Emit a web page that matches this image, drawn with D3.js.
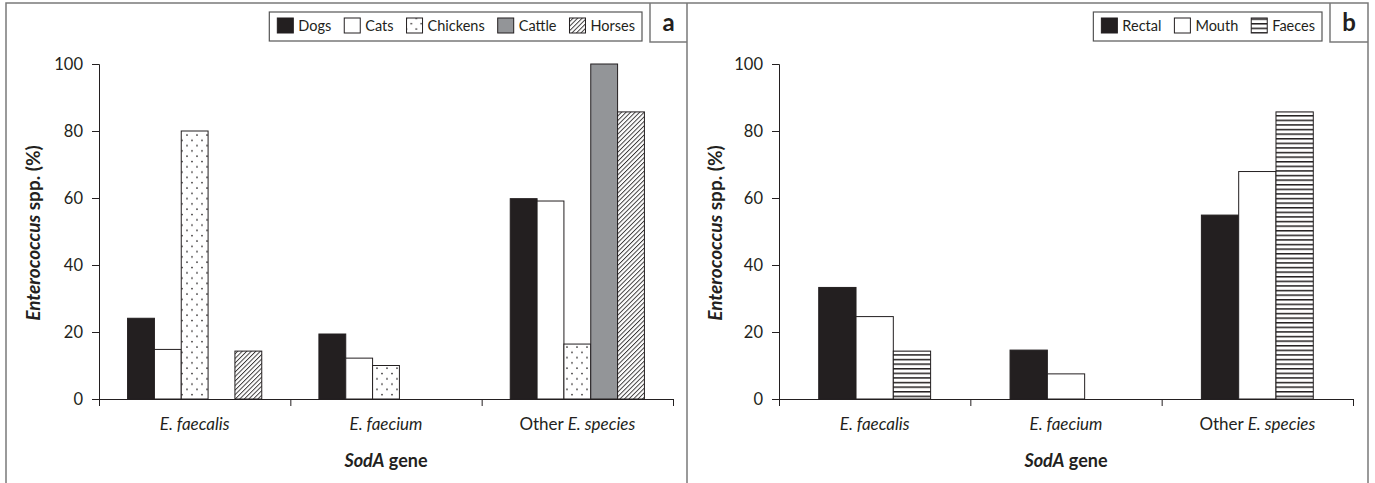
<!DOCTYPE html>
<html>
<head>
<meta charset="utf-8">
<script src="https://cdn.jsdelivr.net/npm/d3@7"></script>
<style>
  body { margin: 0; background: #fff; }
  svg text { font-family: Lato, "Open Sans", sans-serif; fill: #231f20; }
</style>
</head>
<body>
<div id="chart"></div>
<script>
// categories and y ticks shared by both panels
var categories = ["E. faecalis", "E. faecium", "Other E. species"];
var yTicks = [0, 20, 40, 60, 80, 100];

// panel a - by animal (%)
var animalSeries = ["Dogs", "Cats", "Chickens", "Cattle", "Horses"];
var dogsPct     = [24.1, 19.4, 59.8];
var catsPct     = [14.8, 12.2, 59.1];
var chickensPct = [80, 10, 16.4];
var cattlePct   = [0, 0, 100];
var horsesPct   = [14.3, 0, 85.7];

// panel b - by sample (%)
var sampleSeries = ["Rectal", "Mouth", "Faeces"];
var rectalPct = [33.3, 14.6, 54.9];
var mouthPct  = [24.6, 7.5, 67.9];
var faecesPct = [14.3, 0, 85.7];

var W = 1375, H = 483, ink = '#231f20';

var svg = d3.select('#chart').append('svg')
  .attr('width', W).attr('height', H)
  .attr('viewBox', [0, 0, W, H]);

// patterns
var defs = svg.append('defs');
var dots = defs.append('pattern').attr('id', 'dots')
  .attr('patternUnits', 'userSpaceOnUse').attr('width', 10).attr('height', 10.6);
dots.append('rect').attr('width', 10).attr('height', 10.6).attr('fill', '#fff');
dots.append('circle').attr('cx', 2).attr('cy', 2.5).attr('r', 0.85).attr('fill', ink);
dots.append('circle').attr('cx', 7).attr('cy', 7.8).attr('r', 0.85).attr('fill', ink);

var hatch = defs.append('pattern').attr('id', 'hatch')
  .attr('patternUnits', 'userSpaceOnUse').attr('width', 3.2).attr('height', 3.2)
  .attr('patternTransform', 'rotate(45)');
hatch.append('rect').attr('width', 3.2).attr('height', 3.2).attr('fill', '#fff');
hatch.append('line').attr('x1', 0.5).attr('y1', 0).attr('x2', 0.5).attr('y2', 3.2)
  .attr('stroke', ink).attr('stroke-width', 0.85);

var stripes = defs.append('pattern').attr('id', 'stripes')
  .attr('patternUnits', 'userSpaceOnUse').attr('width', 8).attr('height', 4.6);
stripes.append('rect').attr('width', 8).attr('height', 4.6).attr('fill', '#fff');
stripes.append('rect').attr('y', 0).attr('width', 8).attr('height', 1.5).attr('fill', ink);

var fills = {
  Dogs: ink, Cats: '#fff', Chickens: 'url(#dots)', Cattle: '#939598', Horses: 'url(#hatch)',
  Rectal: ink, Mouth: '#fff', Faeces: 'url(#stripes)'
};

// frame
var frame = svg.append('g').attr('fill', 'none').attr('stroke', '#7a7a7a').attr('stroke-width', 1.5);
frame.append('path').attr('d', 'M6,483V3H1368V483M687,3V483M650,3V42H687M1330,3V42H1368');
svg.append('text').attr('x', 668.5).attr('y', 31).attr('text-anchor', 'middle')
  .attr('font-size', '24px').attr('font-weight', 'bold').text('a');
svg.append('text').attr('x', 1349).attr('y', 31).attr('text-anchor', 'middle')
  .attr('font-size', '24px').attr('font-weight', 'bold').text('b');

function draw_panel(series, values, left, right, legendRight, labelX){
  var top = 64, bottom = 399;
  var g = svg.append('g');

  var x0 = d3.scaleBand().domain(categories).range([left, right]);
  var x1 = d3.scaleBand().domain(series).range([0, x0.bandwidth()])
    .paddingInner(0).paddingOuter(1.065);
  var y = d3.scaleLinear().domain([0, 100]).range([bottom, top]);

  var rows = [];
  series.forEach(function(s, i){
    categories.forEach(function(c, j){
      rows.push({cat: c, key: s, val: values[i][j]});
    });
  });

  g.selectAll('rect.bar')
    .data(rows.filter(function(d){ return d.val > 0; }))
    .enter().append('rect')
    .attr('class', 'bar')
    .attr('x', function(d){ return x0(d.cat) + x1(d.key); })
    .attr('width', x1.bandwidth())
    .attr('y', function(d){ return y(d.val); })
    .attr('height', function(d){ return bottom - y(d.val); })
    .attr('fill', function(d){ return fills[d.key]; })
    .attr('stroke', ink)
    .attr('stroke-width', 1);

  // y axis
  g.append('g')
    .attr('transform', 'translate(' + left + ',0)')
    .call(d3.axisLeft(y).tickValues(yTicks).tickSize(7).tickPadding(9))
    .call(function(a){
      a.selectAll('line, path').attr('stroke', ink);
      a.selectAll('text').attr('font-size', '16.5px').style('font-family', 'Lato, sans-serif').attr('fill', ink);
    });

  // x axis with ticks on band edges
  var xEdge = d3.scaleLinear().domain([0, categories.length]).range([left, right]);
  g.append('g')
    .attr('transform', 'translate(0,' + bottom + ')')
    .call(d3.axisBottom(xEdge).ticks(categories.length).tickSize(7).tickSizeOuter(0).tickFormat(''))
    .call(function(a){ a.selectAll('line, path').attr('stroke', ink); });

  // category labels
  var cl = g.selectAll('text.cat').data(categories).enter().append('text')
    .attr('class', 'cat')
    .attr('x', function(d){ return x0(d) + x0.bandwidth() / 2; })
    .attr('y', 430)
    .attr('text-anchor', 'middle')
    .attr('font-size', '17px');
  cl.each(function(d){
    var t = d3.select(this);
    if (d.indexOf('Other ') === 0) {
      t.append('tspan').text('Other ');
      t.append('tspan').attr('font-style', 'italic').text(d.slice(6));
    } else {
      t.append('tspan').attr('font-style', 'italic').text(d);
    }
  });

  // x title
  var xt = g.append('text').attr('x', (left + right) / 2).attr('y', 467)
    .attr('text-anchor', 'middle').attr('font-size', '18px').attr('font-weight', 'bold');
  xt.append('tspan').attr('font-style', 'italic').text('SodA');
  xt.append('tspan').text(' gene');

  // y title
  var yt = g.append('text')
    .attr('transform', 'translate(' + labelX + ',' + 233 + ') rotate(-90)')
    .attr('text-anchor', 'middle').attr('font-size', '19px').attr('font-weight', 'bold');
  yt.append('tspan').attr('font-style', 'italic').text('Enterococcus');
  yt.append('tspan').text(' spp. (%)');

  // legend
  var lg = g.append('g');
  var lx = 8;
  series.forEach(function(s){
    lg.append('rect').attr('x', lx).attr('y', 18).attr('width', 16).attr('height', 15)
      .attr('fill', fills[s]).attr('stroke', ink).attr('stroke-width', 1);
    var t = lg.append('text').attr('x', lx + 21).attr('y', 31).attr('font-size', '14.5px').text(s);
    lx = lx + 21 + t.node().getComputedTextLength() + 13;
  });
  var lw = lx - 13 + 7;
  lg.insert('rect', ':first-child').attr('x', 0).attr('y', 12).attr('width', lw).attr('height', 29)
    .attr('fill', '#fff').attr('stroke', '#555').attr('stroke-width', 1.2);
  lg.attr('transform', 'translate(' + (legendRight - lw) + ',0)');
}

draw_panel(animalSeries, [dogsPct, catsPct, chickensPct, cattlePct, horsesPct], 99, 673, 642, 40);
draw_panel(sampleSeries, [rectalPct, mouthPct, faecesPct], 779, 1353, 1322, 722);
</script>
</body>
</html>
